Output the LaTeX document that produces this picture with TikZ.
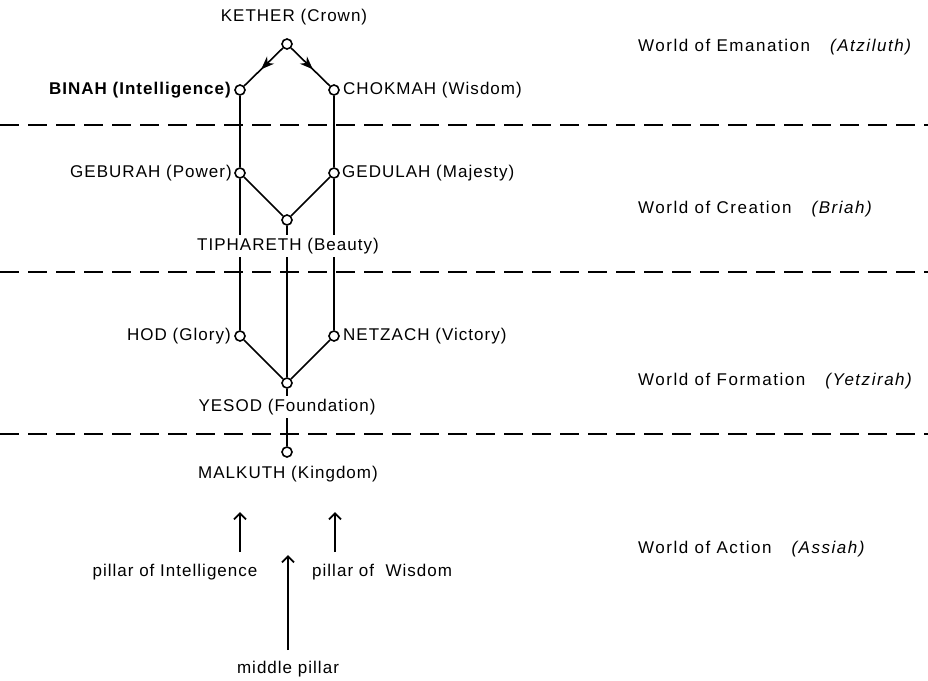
\documentclass[tikz,border=0pt]{standalone}
\usepackage{fontspec}
\setmainfont{Liberation Sans}[LetterSpace=6]
\usetikzlibrary{arrows.meta,decorations.markings,backgrounds}
\begin{document}
\begin{tikzpicture}[x=1pt,y=-1pt,
  font=\fontsize{17}{20}\selectfont,
  sef/.style={circle,draw,fill=white,minimum size=10pt,inner sep=0pt,line width=1.6pt},
  lbl/.style={inner sep=1pt},
  cover/.style={fill=white,inner sep=3pt},
  pil/.style={line width=1.5pt},
  thickpil/.style={line width=2.3pt},
  sepline/.style={line width=1.3pt,dash pattern=on 19pt off 9pt},
  midarrow/.style={line width=1.6pt,postaction={decorate},decoration={markings,
     mark=at position 0.56 with {\arrow{Stealth[length=13pt,width=10pt,inset=4pt]}}}},
  uparrow/.style={line width=1.9pt,-{Straight Barb[length=6pt,width=12pt,line width=1.9pt]}},
  world/.style={anchor=west,inner sep=0pt,font=\fontsize{17}{20}\selectfont\addfontfeature{LetterSpace=9}}
]
\useasboundingbox (0,0) rectangle (928,680);

% sephiroth
\node[sef] (ket) at (287,44) {};
\node[sef] (bin) at (240,90) {};
\node[sef] (cho) at (334,90) {};
\node[sef] (geb) at (240,173) {};
\node[sef] (ged) at (334,173) {};
\node[sef] (tip) at (287,220) {};
\node[sef] (hod) at (240,336) {};
\node[sef] (net) at (334,336) {};
\node[sef] (yes) at (287,383) {};
\node[sef] (mal) at (287,452) {};

% dashed separators
\coordinate (s1l) at (0,125);  \coordinate (s1r) at (928,125);
\coordinate (s2l) at (0,272);  \coordinate (s2r) at (928,272);
\coordinate (s3l) at (0,434);  \coordinate (s3r) at (928,434);

\begin{scope}[on background layer]
  \draw[sepline] (s1l) -- (s1r);
  \draw[sepline] (s2l) -- (s2r);
  \draw[sepline] (s3l) -- (s3r);
  \draw[midarrow] (ket) -- (bin);
  \draw[midarrow] (ket) -- (cho);
  \draw[pil] (bin) -- (geb);
  \draw[pil] (cho) -- (ged);
  \draw[thickpil] (geb) -- (hod);
  \draw[pil] (ged) -- (net);
  \draw[pil] (geb) -- (tip);
  \draw[pil] (ged) -- (tip);
  \draw[pil] (tip) -- (yes);
  \draw[pil] (hod) -- (yes);
  \draw[pil] (net) -- (yes);
  \draw[pil] (yes) -- (mal);
\end{scope}

% labels
\node[lbl] (lket) at (294,17) {KETHER (Crown)};
\node[lbl,anchor=east] (lbin) at (233,90) {\textbf{BINAH (Intelligence)}};
\node[lbl,anchor=west] (lcho) at (342,90) {CHOKMAH (Wisdom)};
\node[lbl,anchor=east] (lgeb) at (233,173) {GEBURAH (Power)};
\node[lbl,anchor=west] (lged) at (341,173) {GEDULAH (Majesty)};
\node[cover] (ltip) at (288,246) {TIPHARETH (Beauty)};
\node[lbl,anchor=east] (lhod) at (232,336) {HOD (Glory)};
\node[lbl,anchor=west] (lnet) at (342,336) {NETZACH (Victory)};
\node[cover] (lyes) at (287,407) {YESOD (Foundation)};
\node[lbl] (lmal) at (288,474) {MALKUTH (Kingdom)};

% worlds
\node[world] (w1) at (638,47) {World of Emanation\hspace{20pt}\textit{(Atziluth)}};
\node[world] (w2) at (638,209) {World of Creation\hspace{20pt}\textit{(Briah)}};
\node[world] (w3) at (638,381) {World of Formation\hspace{20pt}\textit{(Yetzirah)}};
\node[world] (w4) at (638,549) {World of Action\hspace{20pt}\textit{(Assiah)}};

% pillars
\coordinate (pl0) at (240,552); \coordinate (pl1) at (240,512);
\coordinate (pr0) at (335,552); \coordinate (pr1) at (335,512);
\coordinate (pm0) at (288,650); \coordinate (pm1) at (288,555);
\draw[uparrow] (pl0) -- (pl1);
\draw[uparrow] (pr0) -- (pr1);
\draw[uparrow] (pm0) -- (pm1);
\node[lbl] (pint) at (175,572) {pillar of Intelligence};
\node[lbl,anchor=west] (pwis) at (311,572) {pillar of\ \ Wisdom};
\node[lbl] (pmid) at (288,669) {middle pillar};
\end{tikzpicture}
\end{document}
